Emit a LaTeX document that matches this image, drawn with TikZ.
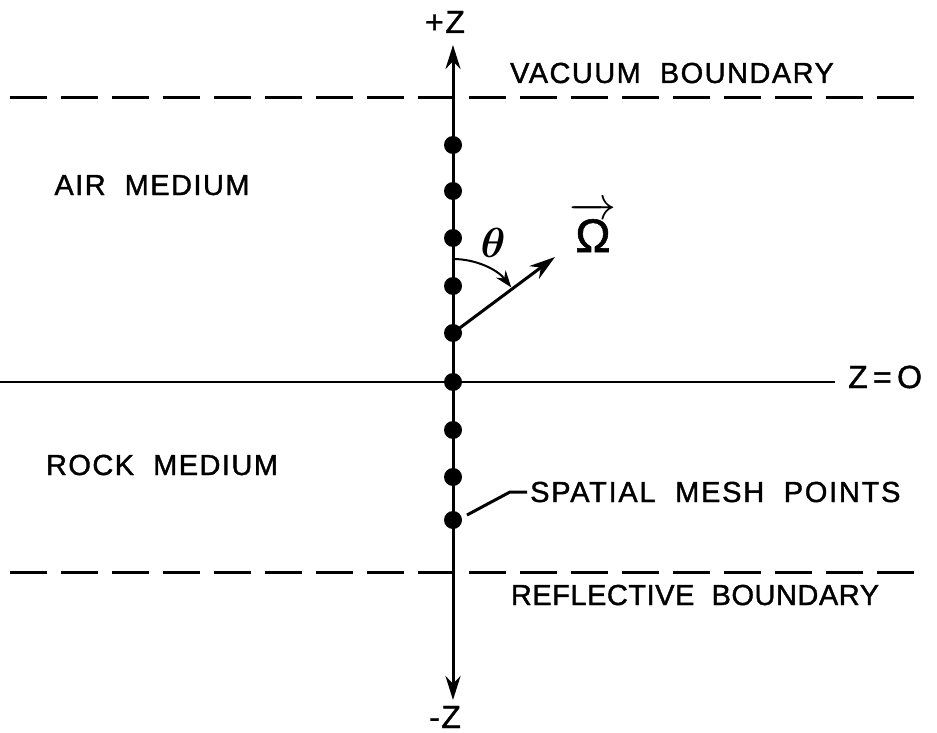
\documentclass[tikz,border=0pt]{standalone}
\usepackage{fix-cm}
\usepackage{amsmath}
\usepackage{fontspec}
\setmainfont{Liberation Sans}[LetterSpace=5,FakeBold=1.3]
\usetikzlibrary{arrows.meta}
\tikzset{
  lbl/.style={inner sep=0pt, font=\fontsize{29}{31}\selectfont},
  axislbl/.style={inner sep=0pt, font=\fontsize{32}{34}\selectfont},
  meshdot/.style={circle, fill=black, inner sep=0pt, minimum size=18pt},
  axisline/.style={line width=3pt, {Stealth[length=24pt,width=15pt]}-{Stealth[length=24pt,width=15pt]}},
  bdry/.style={line width=3pt, dash pattern=on 37pt off 14pt},
  vecarrow/.style={line width=3pt, -{Stealth[length=26pt,width=16pt]}},
  anglearc/.style={line width=2pt, -{Stealth[length=17pt,width=12pt]}},
}
\begin{document}
\begin{tikzpicture}[x=1pt,y=-1pt]
\useasboundingbox (0,0) rectangle (937,733);
% labels
\node[axislbl, anchor=base] (pz) at (445,33) {+Z};
\node[axislbl, anchor=base] (mz) at (445,728) {-Z};
\node[lbl, anchor=base] (vac) at (672,83) {VACUUM\ \ BOUNDARY};
\node[lbl, anchor=base] (air) at (152,195) {AIR\ \ MEDIUM};
\node[lbl, anchor=base] (rock) at (162,475) {ROCK\ \ MEDIUM};
\node[lbl, anchor=base] (refl) at (695,605) {\addfontfeature{LetterSpace=1.8}REFLECTIVE\ \ BOUNDARY};
\node[lbl, anchor=base west] (smp) at (530,502) {\addfontfeature{LetterSpace=6}SPATIAL\ \ MESH\ \ POINTS};
\node[axislbl, anchor=base west] (z0) at (848,388) {Z\,=\,O};
\node[inner sep=0pt, anchor=base, font=\fontsize{42}{44}\selectfont] (th) at (493,257) {$\boldsymbol{\theta}$};
\node[inner sep=0pt, anchor=base, font=\fontsize{47}{50}\selectfont] (om) at (593,252) {$\overrightarrow{\text{\addfontfeature{LetterSpace=0}Ω}}$};
% boundaries
\coordinate (vbL) at (10,98);
\coordinate (vbR) at (918,98);
\coordinate (rbL) at (10,572);
\coordinate (rbR) at (920,572);
\draw[bdry] (vbL) -- (vbR);
\draw[bdry] (rbL) -- (rbR);
% z=0 line
\coordinate (zL) at (0,382);
\coordinate (zR) at (835,382);
\draw[line width=2.5pt] (zL) -- (zR);
% axis
\coordinate (atop) at (453,45);
\coordinate (abot) at (453,700);
\draw[axisline] (abot) -- (atop);
% mesh points
\foreach \i/\y in {1/145,2/191,3/238,4/286,5/333,6/382,7/430,8/477,9/520}
  \node[meshdot] (d\i) at (453,\y) {};
% direction vector
\coordinate (omtip) at (555,257);
\draw[vecarrow] (d5.center) -- (omtip);
\draw[anglearc] ([yshift=74pt]d5.center) arc[start angle=-90, end angle=-38, radius=74];
% leader
\coordinate (lead0) at (467,515);
\coordinate (lead1) at (510,492);
\coordinate (lead2) at (527,492);
\draw[line width=3pt] (lead0) -- (lead1) -- (lead2);
\end{tikzpicture}
\end{document}
